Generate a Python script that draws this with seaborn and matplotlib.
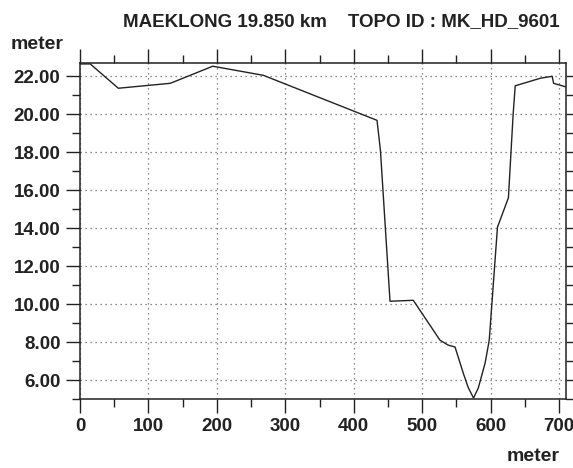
import matplotlib
matplotlib.use("Agg")
import matplotlib.pyplot as plt
import pandas as pd
import seaborn as sns
from matplotlib.ticker import MultipleLocator, FormatStrFormatter

# cross section profile
distance = [0, 15, 56, 132, 194, 268, 434, 439, 453, 487, 500, 526, 538, 548,
            560, 567, 575, 582, 592, 598, 610, 626, 633, 636, 673, 690, 692, 712]
elevation = [22.65, 22.65, 21.37, 21.63, 22.53, 22.05, 19.68, 18.10, 10.15, 10.20,
             9.50, 8.10, 7.84, 7.74, 6.37, 5.63, 5.05, 5.58, 6.90, 8.10,
             14.05, 15.60, 20.05, 21.50, 21.90, 22.00, 21.63, 21.42]

title = "MAEKLONG 19.850 km    TOPO ID : MK_HD_9601"

df = pd.DataFrame({"distance": distance, "elevation": elevation})

sns.set_style("ticks")
plt.rcParams['font.family'] = ['Liberation Sans', 'DejaVu Sans']

fig = plt.figure(figsize=(5.73, 4.68), dpi=100)
ax = fig.add_axes([0.1396, 0.1474, 0.848, 0.718])

sns.lineplot(data=df, x="distance", y="elevation", sort=False, color="#222222",
             linewidth=1.0, ax=ax)

ax.set_xlim(0, 710)
ax.set_ylim(5.0, 22.7)
ax.xaxis.set_major_locator(MultipleLocator(100))
ax.xaxis.set_minor_locator(MultipleLocator(50))
ax.yaxis.set_major_locator(MultipleLocator(2))
ax.yaxis.set_minor_locator(MultipleLocator(1))
ax.yaxis.set_major_formatter(FormatStrFormatter('%.2f'))

ax.grid(True, which='major', linestyle=(0, (1, 3)), color='#666666', linewidth=0.9)
ax.tick_params(which='both', direction='out', top=True, right=True, color='#222222',
               labelsize=13.5, width=1.0)
ax.tick_params(which='major', length=10, pad=4)
ax.tick_params(which='minor', length=6)
for lbl in ax.get_xticklabels() + ax.get_yticklabels():
    lbl.set_fontweight('bold')
    lbl.set_color('#222222')
for sp in ax.spines.values():
    sp.set_color('#222222')
    sp.set_linewidth(1.1)

ax.set_xlabel("")
ax.set_ylabel("")
fig.text(0.018, 0.895, "meter", fontsize=14, fontweight='bold', color='#222222')
fig.text(0.885, 0.015, "meter", fontsize=14, fontweight='bold', color='#222222')
fig.text(0.595, 0.945, title, fontsize=13.5, fontweight='bold', color='#222222',
         ha='center')

fig.savefig("out.png", dpi=100)
